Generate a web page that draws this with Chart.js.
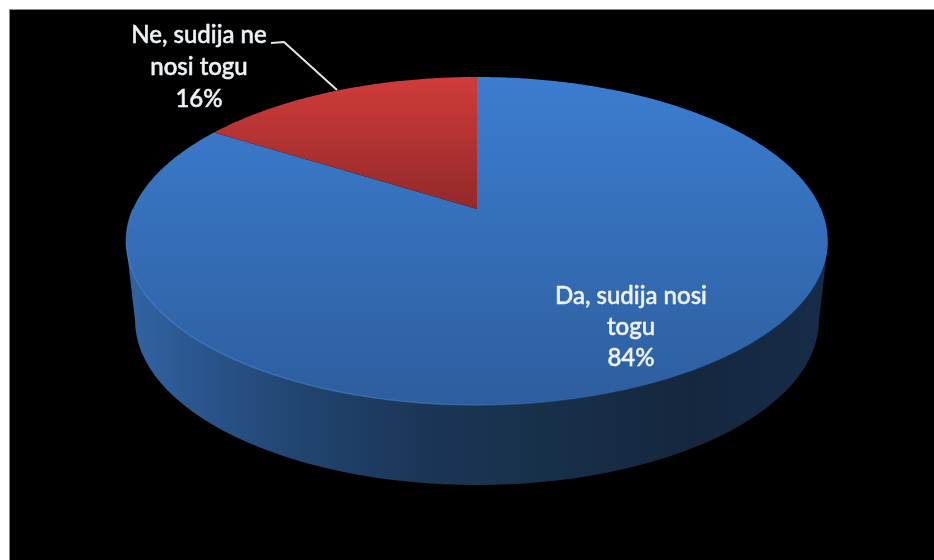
<!DOCTYPE html>
<html><head><meta charset="utf-8">
<style>html,body{margin:0;padding:0;background:#fff;overflow:hidden}canvas{display:block;filter:blur(0.7px)}</style>
<script src="https://cdn.jsdelivr.net/npm/chart.js@4"></script>
</head><body><canvas id="c" width="934" height="560"></canvas>
<script>
const categories = ['Da, sudija nosi togu', 'Ne, sudija ne nosi togu'];
const values = [84, 16];
const labelLines = [['Da, sudija nosi', 'togu'], ['Ne, sudija ne', 'nosi togu']];

// perspective of the disc: unit circle -> picture
const CX = 477, A = 344, APEX_Y = 209, SLOPE = -117, K = 0.195;
function project(angle) {
  const u = Math.cos(angle), v = -Math.sin(angle), w = 1 + K * v;
  return [CX + A * u / w, (APEX_Y + SLOPE * v) / w];
}
function tracePie(ctx, start, end) {
  const steps = Math.ceil((end - start) / 0.01);
  ctx.beginPath();
  ctx.moveTo(CX, APEX_Y);
  for (let i = 0; i <= steps; i++) {
    const p = project(start + (end - start) * i / steps);
    ctx.lineTo(p[0], p[1]);
  }
  ctx.closePath();
}
function vGrad(ctx, y0, y1, c0, c1) {
  const g = ctx.createLinearGradient(0, y0, 0, y1);
  g.addColorStop(0, c0); g.addColorStop(1, c1); return g;
}
const fills = [
  ctx => vGrad(ctx, 77, 405, '#3c7dd0', '#2d5e9e'),
  ctx => vGrad(ctx, 77, 210, '#d03c3a', '#92282a')
];

const pie3d = {
  id: 'pie3d',
  beforeDraw(chart) {
    const ctx = chart.ctx;
    ctx.save();
    ctx.fillStyle = '#fff'; ctx.fillRect(0, 0, 934, 560);
    ctx.fillStyle = '#8c8c8c'; ctx.fillRect(9, 9, 925, 551);
    ctx.fillStyle = '#000'; ctx.fillRect(10, 10, 924, 550);
    // side wall
    const g = ctx.createLinearGradient(126, 0, 828, 0);
    [[0, '#3264a4'], [0.1, '#2a568e'], [0.25, '#21446f'], [0.43, '#1b3556'],
     [0.6, '#173049'], [0.8, '#15273f'], [1, '#172c48']].forEach(s => g.addColorStop(s[0], s[1]));
    ctx.fillStyle = g;
    ctx.beginPath();
    ctx.moveTo(126, 243);
    ctx.lineTo(135, 320);
    ctx.ellipse(477, 320, 342, 165, 0, Math.PI, 0, true);
    ctx.lineTo(828, 243);
    ctx.closePath();
    ctx.fill();
    ctx.restore();
  },
  beforeDatasetDraw(chart, args) {
    const ctx = chart.ctx;
    const arcs = chart.getDatasetMeta(args.index).data;
    ctx.save();
    arcs.forEach((arc, i) => {
      tracePie(ctx, arc.startAngle, arc.endAngle);
      ctx.fillStyle = fills[i](ctx);
      ctx.fill();
    });
    // lit rim along the front edge
    const rim = ctx.createLinearGradient(126, 0, 828, 0);
    rim.addColorStop(0, 'rgba(70,130,210,0.6)');
    rim.addColorStop(0.45, 'rgba(70,130,210,0.55)');
    rim.addColorStop(0.7, 'rgba(70,130,210,0.1)');
    rim.addColorStop(1, 'rgba(70,130,210,0.03)');
    ctx.strokeStyle = rim; ctx.lineWidth = 1.4;
    ctx.beginPath();
    for (let a = 0; a <= Math.PI; a += 0.01) {
      const p = project(a);
      if (a === 0) ctx.moveTo(p[0], p[1]); else ctx.lineTo(p[0], p[1]);
    }
    ctx.stroke();
    ctx.restore();
    return false;
  },
  afterDraw(chart) {
    const ctx = chart.ctx;
    ctx.save();
    // leader line
    ctx.strokeStyle = '#e6e6e6'; ctx.lineWidth = 2;
    ctx.beginPath(); ctx.moveTo(271, 43); ctx.lineTo(284, 42); ctx.lineTo(337, 90); ctx.stroke();
    // data labels
    const anchors = [[631, 296, 31], [199, 35, 32]];
    ctx.font = '500 24px Lato, sans-serif';
    ctx.textAlign = 'center'; ctx.textBaseline = 'middle';
    ctx.fillStyle = '#eef2f7'; ctx.strokeStyle = '#eef2f7'; ctx.lineWidth = 0.5;
    labelLines.forEach((lines, i) => {
      const a = anchors[i];
      lines.concat(values[i] + '%').forEach((t, j) => {
        ctx.fillText(t, a[0], a[1] + j * a[2]);
        ctx.strokeText(t, a[0], a[1] + j * a[2]);
      });
    });
    ctx.restore();
  }
};

new Chart(document.getElementById('c'), {
  type: 'pie',
  data: { labels: categories, datasets: [{ data: values, backgroundColor: ['#3c7dd0', '#d03c3a'], borderWidth: 0 }] },
  options: {
    responsive: false, animation: false,
    plugins: { legend: { display: false }, tooltip: { enabled: false } }
  },
  plugins: [pie3d]
});
</script></body></html>
